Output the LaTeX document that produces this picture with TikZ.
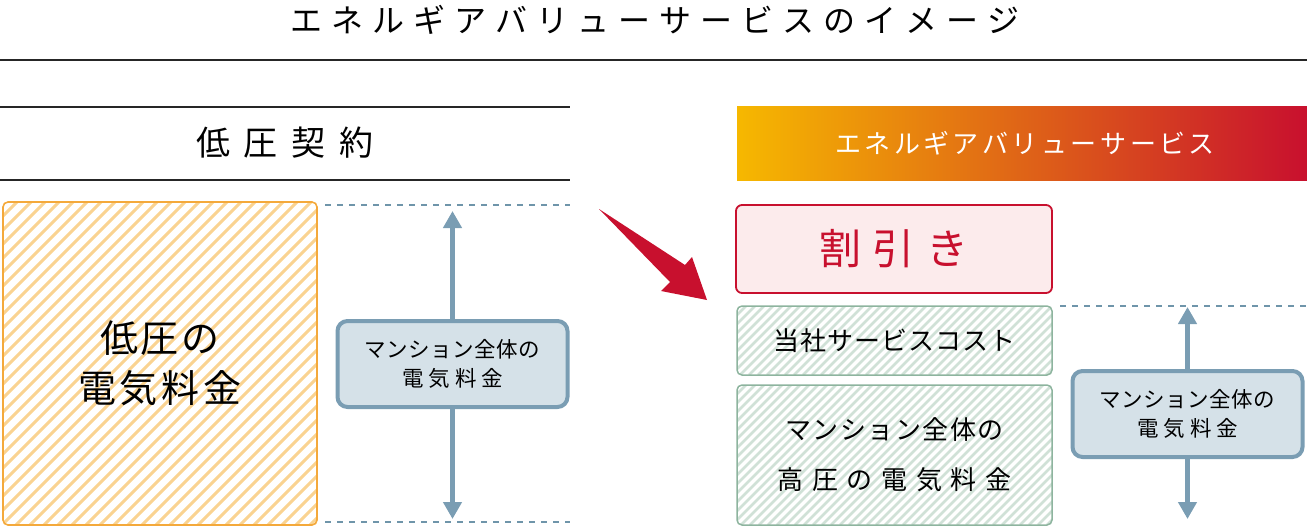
\documentclass[tikz,border=0pt]{standalone}
\usepackage{fontspec}
\newfontfamily\jp{Noto Sans CJK JP}
\usetikzlibrary{arrows.meta}
\definecolor{orb}{HTML}{F4A93B}
\definecolor{orh}{HTML}{FAD391}
\definecolor{grb}{HTML}{8DB49E}
\definecolor{grh}{HTML}{D0E1D7}
\definecolor{blb}{HTML}{7A9DB3}
\definecolor{blf}{HTML}{D5E1E8}
\definecolor{dsh}{HTML}{6F95AA}
\definecolor{rd}{HTML}{C8102E}
\definecolor{pk}{HTML}{FCEBEC}
\definecolor{gy}{HTML}{F6B800}
\definecolor{gm}{HTML}{EC8A00}
\def\spk{0pt}
\def\mygobble#1{}
\def\sptext#1#2{\def\spk{#1}\sploop#2\relax}
\def\sploop#1#2{#1\ifx\relax#2\expandafter\mygobble\else\kern\spk\relax\expandafter\sploop\fi#2}
\newcommand\hatchbox[7]{%
  \begin{scope}
    \clip[rounded corners=5pt] (#1,#2) rectangle (#3,#4);
    \pgfmathsetmacro\hh{#4-#2}
    \pgfmathtruncatemacro\nn{(#3-#1+\hh)/#5+1}
    \foreach \k in {0,...,\nn}{
      \pgfmathsetmacro\xs{#1-\hh+\k*#5}
      \draw[#6,line width=#7] (\xs,#4) -- ++(\hh,-\hh);
    }
  \end{scope}}
\tikzset{
  jpf/.style={font=\jp\fontsize{#1}{#1}\selectfont},
  bluebox/.style={draw=blb,fill=blf,line width=4pt,rounded corners=10pt,
    minimum width=230pt,minimum height=86pt,inner sep=0pt,align=center,
    font=\jp\fontsize{21.5}{29}\selectfont},
  greenbox/.style={draw=grb,line width=1.5pt,rounded corners=5pt,
    minimum width=315pt,inner sep=0pt,align=center},
  varrow/.style={draw=blb,line width=5pt,-{Triangle[width=18pt,length=17pt]}},
  dline/.style={draw=dsh,line width=1.2pt,dash pattern=on 6pt off 6pt},
  rule/.style={draw=black!85,line width=1.2pt}
}
\begin{document}
\begin{tikzpicture}[x=1pt,y=-1pt]
\useasboundingbox (0,0) rectangle (1307,528);
% title
\node[jpf=32] (title) at (655,20) {\sptext{9pt}{エネルギアバリューサービスのイメージ}};
\coordinate (r1a) at (0,60); \coordinate (r1b) at (1307,60);
\draw[rule] (r1a) -- (r1b);
% left header
\coordinate (h1a) at (0,107); \coordinate (h1b) at (570,107);
\coordinate (h2a) at (0,180); \coordinate (h2b) at (570,180);
\draw[rule] (h1a) -- (h1b);
\draw[rule] (h2a) -- (h2b);
\node[jpf=34] (lhead) at (285,143) {\sptext{14pt}{低圧契約}};
% left orange box
\hatchbox{3}{202}{317}{525}{14}{orh}{3pt}
\node[draw=orb,line width=1.6pt,rounded corners=5pt,minimum width=314pt,minimum height=323pt,
  inner sep=0pt,align=center,font=\jp\fontsize{38}{50}\selectfont] (lowbox) at (160,363.5)
  {\sptext{3pt}{低圧の}\\\sptext{4pt}{電気料金}};
% left dashed lines
\coordinate (d1a) at (325,205); \coordinate (d1b) at (570,205);
\coordinate (d2a) at (325,522); \coordinate (d2b) at (570,522);
\draw[dline] (d1a) -- (d1b);
\draw[dline] (d2a) -- (d2b);
% left blue box and arrows
\node[bluebox] (lblue) at (452.5,364) {\sptext{0.5pt}{マンション全体の}\\\sptext{5pt}{電気料金}};
\coordinate (ltop) at (452.5,211);
\coordinate (lbot) at (452.5,519);
\draw[varrow] (lblue.north) -- (ltop);
\draw[varrow] (lblue.south) -- (lbot);
% red arrow
\fill[rd] (599,209) -- (685,265) -- (692,257) -- (707,300) -- (661,291) -- (670,282) -- cycle;
% gradient bar
\shade[left color=gy,middle color=gm,right color=rd] (737,106) rectangle (1307,180);
\node[jpf=26,text=white] (gtext) at (1025,143) {\sptext{3.5pt}{エネルギアバリューサービス}};
% discount box
\node[draw=rd,fill=pk,line width=1.8pt,rounded corners=6pt,minimum width=316pt,minimum height=88pt,
  inner sep=0pt,text=rd,font=\jp\fontsize{42}{42}\selectfont] (disc) at (894,249)
  {\sptext{12pt}{割引き}};
% green boxes
\hatchbox{737}{306}{1052}{375}{9}{grh}{2.6pt}
\node[greenbox,minimum height=69pt,font=\jp\fontsize{26}{26}\selectfont] (cost) at (894.5,340.5)
  {\sptext{1pt}{当社サービスコスト}};
\hatchbox{737}{385}{1052}{525}{9}{grh}{2.6pt}
\node[greenbox,minimum height=140pt,font=\jp\fontsize{26}{50}\selectfont] (high) at (894.5,455)
  {\sptext{1.5pt}{マンション全体の}\\\sptext{8.7pt}{高圧の電気料金}};
% right dashed line
\coordinate (d3a) at (1060,306); \coordinate (d3b) at (1307,306);
\draw[dline] (d3a) -- (d3b);
% right blue box and arrows
\node[bluebox] (rblue) at (1187.5,414) {\sptext{0.5pt}{マンション全体の}\\\sptext{5pt}{電気料金}};
\coordinate (rtop) at (1187.5,307);
\coordinate (rbot) at (1187.5,519);
\draw[varrow] (rblue.north) -- (rtop);
\draw[varrow] (rblue.south) -- (rbot);
\end{tikzpicture}
\end{document}
